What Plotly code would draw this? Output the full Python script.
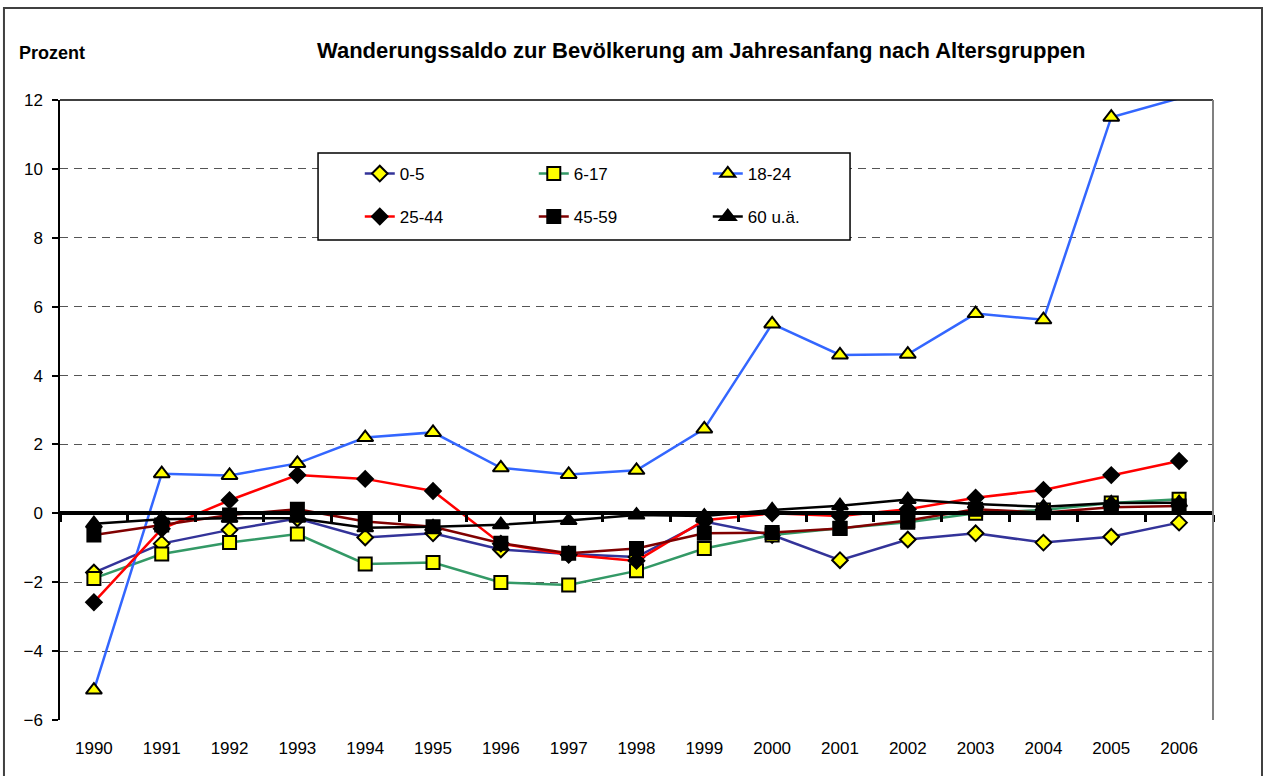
import plotly.graph_objects as go

years = list(range(1990, 2007))

groups = ["0-5", "6-17", "18-24", "25-44", "45-59", "60 u.ä."]

g0_5 = [-1.72, -0.88, -0.48, -0.15, -0.70, -0.58, -1.05, -1.18, -1.27, -0.24, -0.63,
        -1.36, -0.76, -0.58, -0.85, -0.68, -0.27]
g6_17 = [-1.89, -1.18, -0.85, -0.60, -1.47, -1.43, -2.01, -2.08, -1.67, -1.02, -0.63,
         -0.43, -0.26, 0.00, 0.10, 0.30, 0.41]
g18_24 = [-5.13, 1.15, 1.10, 1.45, 2.20, 2.35, 1.32, 1.13, 1.25, 2.45, 5.50,
          4.60, 4.62, 5.80, 5.62, 11.50, 12.05]
g25_44 = [-2.58, -0.45, 0.38, 1.11, 1.00, 0.65, -0.88, -1.20, -1.38, -0.20, 0.00,
          -0.08, 0.12, 0.45, 0.68, 1.11, 1.52]
g45_59 = [-0.63, -0.34, -0.05, 0.12, -0.24, -0.39, -0.87, -1.16, -1.02, -0.58, -0.56,
          -0.44, -0.21, 0.12, 0.02, 0.18, 0.21]
g60 = [-0.30, -0.17, -0.14, -0.14, -0.42, -0.39, -0.33, -0.21, -0.05, -0.08, 0.10,
       0.22, 0.40, 0.27, 0.19, 0.30, 0.31]

series = [g0_5, g6_17, g18_24, g25_44, g45_59, g60]
line_colors = ["#333399", "#339966", "#3366FF", "#FF0000", "#800000", "#000000"]
symbols = ["diamond", "square", "triangle-up", "diamond", "square", "triangle-up"]
fills = ["#FFFF00", "#FFFF00", "#FFFF00", "#000000", "#000000", "#000000"]
sizes = [12, 13, 14, 12, 13, 14]

y_min, y_max = -6, 12

FONT = "Liberation Sans, Arial, sans-serif"

fig = go.Figure()

for i, name in enumerate(groups):
    vals = series[i]
    # Excel leaves out markers of points beyond the axis maximum
    msize = [sizes[i] if v <= y_max else 0 for v in vals]
    fig.add_trace(go.Scatter(
        x=years, y=vals, name=name, mode="lines+markers",
        line=dict(color=line_colors[i], width=2.5),
        marker=dict(symbol=symbols[i], size=msize, color=fills[i], opacity=1,
                    line=dict(color="black", width=2)),
        legend="legend" if i < 3 else "legend2",
    ))

# helper trace so that the axis at zero gets drawn
fig.add_trace(go.Scatter(x=years, y=[None] * len(years), xaxis="x2",
                         showlegend=False, hoverinfo="skip"))

fig.update_layout(
    width=1263, height=776,
    margin=dict(l=60, r=50, t=100, b=56),
    paper_bgcolor="white", plot_bgcolor="white",
    font=dict(family=FONT, size=17, color="black"),
    xaxis=dict(range=[1989.5, 2006.5], tickvals=years, ticks="",
               showline=False, showgrid=False, zeroline=False,
               ticklabelstandoff=16, tickfont=dict(size=17)),
    xaxis2=dict(range=[1989.5, 2006.5], overlaying="x", anchor="free",
                position=(0 - y_min) / (y_max - y_min),
                tickvals=[y - 0.5 for y in years] + [2006.5],
                showticklabels=False, ticks="outside", ticklen=7,
                tickwidth=3, tickcolor="black", showline=True,
                linewidth=4, linecolor="black", showgrid=False,
                zeroline=False),
    yaxis=dict(range=[y_min, y_max], dtick=2, showline=True,
               linecolor="black", linewidth=1.5, ticks="outside",
               ticklen=6, tickwidth=1.5, tickcolor="black",
               showgrid=True, gridcolor="#555555", gridwidth=1,
               griddash="8px,6px", zeroline=False,
               ticklabelstandoff=6, tickfont=dict(size=17)),
    legend=dict(orientation="h", x=0.26, y=0.8806, xanchor="left",
                yanchor="middle", entrywidth=129, bgcolor="rgba(0,0,0,0)",
                font=dict(size=17)),
    legend2=dict(orientation="h", x=0.26, y=0.8113, xanchor="left",
                 yanchor="middle", entrywidth=129, bgcolor="rgba(0,0,0,0)",
                 font=dict(size=17)),
    showlegend=True,
)

fig.add_annotation(text="<b>Wanderungssaldo zur Bevölkerung am Jahresanfang nach Altersgruppen</b>",
                   xref="paper", yref="paper", x=0.556, y=1.0806,
                   xanchor="center", yanchor="middle",
                   showarrow=False, font=dict(size=22))
fig.add_annotation(text="<b>Prozent</b>", xref="paper", yref="paper",
                   x=-0.007, y=1.0758, xanchor="center", yanchor="middle",
                   showarrow=False, font=dict(size=18))

# legend frame
fig.add_shape(type="rect", xref="paper", yref="paper", x0=0.2238, x1=0.6852,
              y0=0.7742, y1=0.9145, line=dict(color="black", width=1.5),
              fillcolor="white", layer="above")
# plot area top and right edge
fig.add_shape(type="line", xref="paper", yref="paper", x0=0, x1=1, y0=1, y1=1,
              line=dict(color="black", width=1.5))
fig.add_shape(type="line", xref="paper", yref="paper", x0=1, x1=1, y0=0, y1=1,
              line=dict(color="#808080", width=2))
# outer chart frame
fig.add_shape(type="rect", xref="paper", yref="paper", x0=-0.0486, x1=1.0425,
              y0=-0.2, y1=1.1484, line=dict(color="#404040", width=2),
              layer="below")

fig.write_html("out.html", config={"displayModeBar": False},
               post_script="document.body.style.margin='0';"
                           "document.body.style.overflow='hidden';")
